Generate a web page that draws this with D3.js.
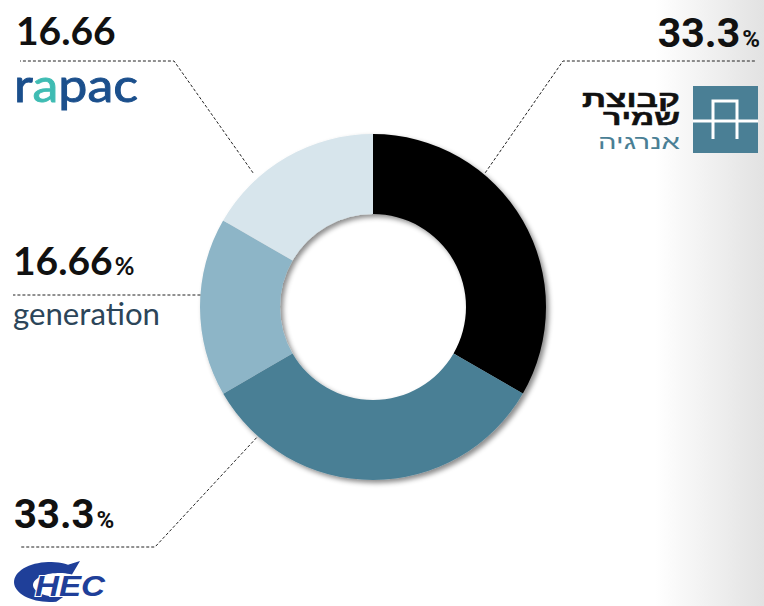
<!DOCTYPE html>
<html><head><meta charset="utf-8">
<script src="https://cdn.jsdelivr.net/npm/d3@7"></script>
<style>html,body{margin:0;padding:0;background:#fff;overflow:hidden}</style>
</head><body>
<script>
// ---- data ----
const companies = ["Shamir Energy", "HEC", "Generation", "Rapac"];
const shares = [33.3, 33.3, 16.66, 16.66];
const shareLabels = ["33.3", "33.3", "16.66", "16.66"];
const shareSuffix = ["%", "%", "%", ""];
const sliceColors = ["#000000", "#4a7f95", "#8db5c7", "#d7e5ec"];

const W = 764, H = 606;
const svg = d3.select("body").append("svg").attr("width", W).attr("height", H);
const defs = svg.append("defs");

const bg = defs.append("linearGradient").attr("id", "bg").attr("gradientUnits", "userSpaceOnUse")
  .attr("x1", 655).attr("x2", 764).attr("y1", 0).attr("y2", 0);
bg.append("stop").attr("offset", 0).attr("stop-color", "#ffffff");
bg.append("stop").attr("offset", 1).attr("stop-color", "#e2e2e2");
svg.append("rect").attr("width", W).attr("height", H).attr("fill", "url(#bg)");

const f = defs.append("filter").attr("id", "shadow").attr("x", "-20%").attr("y", "-20%").attr("width", "140%").attr("height", "140%");
f.append("feDropShadow").attr("dx", 3).attr("dy", 3).attr("stdDeviation", 2.5)
  .attr("flood-color", "#000").attr("flood-opacity", 0.45);

const cx = 373, cy = 307, rIn = 93, rOut = 173;
const pie = d3.pie().sort(null).value(d => d)(shares);
const arc = d3.arc().innerRadius(rIn).outerRadius(rOut);
const g = svg.append("g").attr("transform", `translate(${cx},${cy})`);
g.append("g").attr("filter", "url(#shadow)").selectAll("path").data(pie).join("path")
  .attr("d", arc).attr("fill", (d, i) => sliceColors[i]);

// ---- leader lines ----
const deg = Math.PI / 180;
const leaders = [
  { a: 39.9, r: 175, hy: 61, hx1: 563, hx2: 755 },   // Shamir
  { a: 221.7, r: 175, hy: 547, hx1: 155, hx2: 20 },  // HEC
  { a: -94, r: 173, hy: 295, hx1: null, hx2: 13 },   // Generation
  { a: -41.8, r: 180, hy: 61, hx1: 174, hx2: 20 }    // Rapac
];
leaders.forEach(L => {
  const p = d3.pointRadial(L.a * deg, L.r);
  const px = cx + p[0], py = cy + p[1];
  const pts = L.hx1 === null ? [[px, L.hy], [L.hx2, L.hy]] : [[px, py], [L.hx1, L.hy], [L.hx2, L.hy]];
  svg.append("path").attr("d", d3.line()(pts)).attr("fill", "none")
    .attr("stroke", "#222").attr("stroke-width", 1).attr("stroke-dasharray", "3,2");
});

// ---- value labels ----
const labelPos = [
  { x: 760, y: 47, anchor: "end", font: "Roboto", size: 41 },
  { x: 14, y: 528, anchor: "start", font: "Roboto", size: 40 },
  { x: 13, y: 275, anchor: "start", font: "Lato", size: 39 },
  { x: 16, y: 45, anchor: "start", font: "Lato", size: 39 }
];
shareLabels.forEach((s, i) => {
  const P = labelPos[i];
  const t = svg.append("text").attr("x", P.x).attr("y", P.y).attr("text-anchor", P.anchor)
    .attr("font-family", P.font).attr("font-weight", 700).attr("font-size", P.size).attr("fill", "#111");
  t.append("tspan").text(s);
  if (shareSuffix[i]) t.append("tspan").attr("font-size", 24).attr("dx", 2).text(shareSuffix[i]);
});

// ---- logos ----
// Rapac
const rap = svg.append("text").attr("x", 14).attr("y", 102).attr("font-family", "Lato")
  .attr("font-size", 46).attr("font-weight", 400).attr("stroke-width", 0.9)
  .attr("textLength", 124).attr("lengthAdjust", "spacingAndGlyphs");
[["r", "#1b4f8c"], ["a", "#3fbcb3"], ["p", "#1b4f8c"], ["a", "#1b4f8c"], ["c", "#1b4f8c"]]
  .forEach(([c, col]) => rap.append("tspan").attr("fill", col).attr("stroke", col).text(c));

// Generation
svg.append("text").attr("x", 13).attr("y", 325).attr("font-family", "Lato").attr("font-size", 31)
  .attr("font-weight", 400).attr("fill", "#2c4559").attr("textLength", 147).attr("lengthAdjust", "spacingAndGlyphs")
  .text("generation");

// HEC
const ell = (ecx, ecy, rx, ry, a0, a1, n) => d3.range(n + 1).map(k => {
  const a = (a0 + (a1 - a0) * k / n) * deg;
  return [ecx + rx * Math.cos(a), ecy + ry * Math.sin(a)];
});
const crescent = [[80, 561]].concat(ell(50, 582, 36, 20, -60, -280, 40), ell(59, 585, 26, 12, 80, 300, 40));
svg.append("path").attr("fill", "#1f3f99").attr("d", d3.line()(crescent) + "Z");
svg.append("text").attr("x", 35).attr("y", 596).attr("font-family", "Liberation Sans").attr("font-weight", 700)
  .attr("font-style", "italic").attr("font-size", 29).attr("fill", "#1f3f99").attr("stroke", "#fff").attr("stroke-width", 2)
  .attr("paint-order", "stroke").attr("textLength", 70).attr("lengthAdjust", "spacingAndGlyphs").text("HEC");

// Shamir Energy (one text block, three lines)
const heb = [
  { t: "קבוצת", y: 107, w: 98, wt: 700, col: "#111", size: 23 },
  { t: "שמיר", y: 125, w: 77, wt: 700, col: "#111", size: 23 },
  { t: "אנרגיה", y: 149, w: 82, wt: 400, col: "#4a7f95", size: 23 }
];
const hg = svg.append("g");
const ht = hg.append("text").attr("text-anchor", "end").attr("font-family", "Liberation Sans");
const spans = heb.map(h => ht.append("tspan").attr("x", 0).attr("y", h.y - heb[0].y)
  .attr("font-weight", h.wt).attr("font-size", h.size).attr("fill", h.col)
  .attr("stroke", h.wt === 700 ? h.col : "none").attr("stroke-width", 0.5).text(h.t));
const sx = heb[0].w / spans[0].node().getComputedTextLength();
heb.forEach((h, i) => {
  if (i === 0) return;
  const len = spans[i].node().getComputedTextLength();
  spans[i].attr("font-size", h.size * (h.w / sx) / len);
});
hg.attr("transform", `translate(680,${heb[0].y}) scale(${sx},1)`);

svg.append("rect").attr("x", 693).attr("y", 86).attr("width", 65).attr("height", 67).attr("fill", "#4a7f95");
const ic = svg.append("g").attr("stroke", "#fff").attr("stroke-width", 3).attr("fill", "none");
ic.append("path").attr("d", "M693,121 H758");
ic.append("path").attr("d", "M713,139 V101 H737 V139");
</script>
</body></html>
